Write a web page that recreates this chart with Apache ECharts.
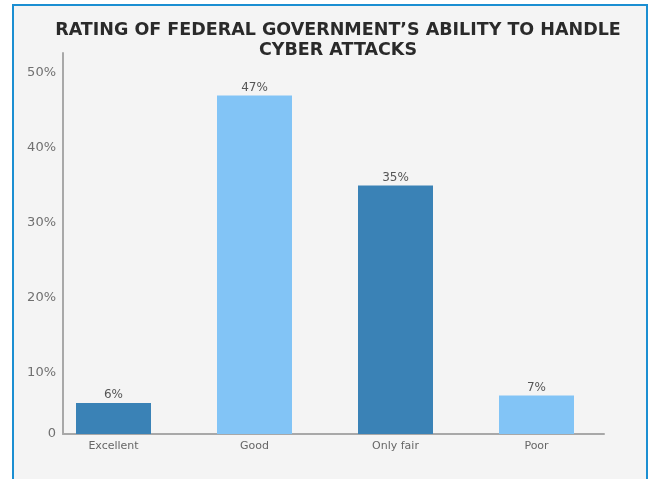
<!DOCTYPE html>
<html>
<head>
<meta charset="utf-8">
<script src="https://cdn.jsdelivr.net/npm/echarts@6/dist/echarts.min.js"></script>
<style>
  html, body { margin: 0; padding: 0; background: #ffffff; }
  #chart { width: 649px; height: 479px; }
</style>
</head>
<body>
<div id="chart"></div>
<script>
const categories = ['Excellent', 'Good', 'Only fair', 'Poor']
const ratings = [6, 47, 35, 7]
const barColors = ['#3a82b6', '#82c4f6', '#3a82b6', '#82c4f6']
const tickValues = [10, 20, 30, 40, 50]

// axis baseline sits a bit above zero in the original, so the scale starts there
const yMin = 1.87
const yMax = 52.67

const chart = echarts.init(document.getElementById('chart'))

const font = 'DejaVu Sans'

const option = {
  backgroundColor: '#ffffff',
  animation: false,
  graphic: [
    {
      type: 'rect',
      z: -10,
      silent: true,
      shape: { x: 13, y: 5, width: 634, height: 490 },
      style: { fill: '#f4f4f4', stroke: '#1b8fd2', lineWidth: 2 }
    }
  ],
  title: {
    text: 'RATING OF FEDERAL GOVERNMENT\u2019S ABILITY TO HANDLE\nCYBER ATTACKS',
    left: 333,
    top: 15,
    textAlign: 'center',
    textStyle: {
      fontFamily: font,
      fontSize: 17.5,
      fontWeight: 'bold',
      color: '#2a2a2a',
      lineHeight: 20
    }
  },
  grid: [
    { left: 43, right: 42, top: 53, bottom: 45 },
    { left: 63, right: 45, top: 53, bottom: 45 }
  ],
  xAxis: [
    {
      type: 'category',
      gridIndex: 0,
      data: categories,
      axisLine: { show: false },
      axisTick: { show: false },
      axisLabel: {
        margin: 7,
        fontFamily: font,
        fontSize: 11,
        color: '#666666'
      }
    },
    {
      type: 'value',
      gridIndex: 1,
      min: 0,
      max: 1,
      axisLine: { show: true, lineStyle: { color: '#a8a8a8', width: 2 } },
      axisTick: { show: false },
      axisLabel: { show: false },
      splitLine: { show: false }
    }
  ],
  yAxis: [
    {
      type: 'value',
      gridIndex: 0,
      min: yMin,
      max: yMax,
      show: false
    },
    {
      type: 'value',
      gridIndex: 1,
      min: yMin,
      max: yMax,
      axisLine: { show: true, lineStyle: { color: '#a8a8a8', width: 2 } },
      axisTick: { show: false },
      splitLine: { show: false },
      axisLabel: {
        customValues: [yMin].concat(tickValues),
        margin: 7,
        fontFamily: font,
        fontSize: 13,
        color: '#707070',
        formatter: v => (v < 5 ? '0' : Math.round(v) + '%')
      }
    }
  ],
  series: [
    {
      type: 'bar',
      xAxisIndex: 0,
      yAxisIndex: 0,
      barWidth: 75,
      clip: true,
      data: ratings.map((v, i) => ({ value: v, itemStyle: { color: barColors[i] } })),
      label: {
        show: true,
        position: 'top',
        distance: 2,
        fontFamily: font,
        fontSize: 12,
        color: '#555555',
        formatter: p => p.value + '%'
      }
    }
  ]
}

chart.setOption(option)
</script>
</body>
</html>
